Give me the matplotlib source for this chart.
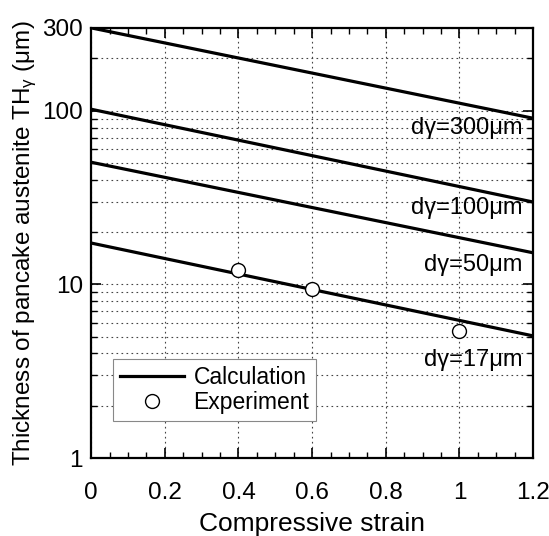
import matplotlib
matplotlib.use("Agg")
import matplotlib.pyplot as plt
from matplotlib.ticker import FixedLocator, LogLocator, NullFormatter, MultipleLocator

plt.rcParams['font.family'] = ['Liberation Sans', 'DejaVu Sans']
plt.rcParams['mathtext.fontset'] = 'custom'
plt.rcParams['mathtext.rm'] = 'Liberation Sans'
plt.rcParams['mathtext.it'] = 'Liberation Sans'

# calculated lines (straight on log scale), read at both ends
strain_ends = [0.0, 1.2]
calc_300 = [300, 90.5]
calc_100 = [102, 29.8]
calc_50 = [50.5, 15.2]
calc_17 = [17.3, 5.05]
calc_lines = [calc_300, calc_100, calc_50, calc_17]
line_labels = ["dγ=300μm", "dγ=100μm", "dγ=50μm", "dγ=17μm"]
label_y = [79.5, 27.5, 12.9, 3.67]

# experiment points
exp_strain = [0.4, 0.6, 1.0]
exp_th = [12.1, 9.4, 5.4]

fig, ax = plt.subplots(figsize=(5.49, 5.36), dpi=100)
fig.subplots_adjust(left=0.166, right=0.971, top=0.948, bottom=0.1455)

for i, vals in enumerate(calc_lines):
    ax.plot(strain_ends, vals, color="black", lw=2.3,
            label="Calculation" if i == 0 else None, zorder=3)
ax.plot(exp_strain, exp_th, "o", ms=10, mfc="white", mec="black", mew=1.0,
        ls="none", label="Experiment", zorder=4)

for txt, y in zip(line_labels, label_y):
    ax.text(1.172, y, txt, ha="right", va="center", fontsize=17, zorder=2)

ax.set_yscale("log")
ax.set_xlim(0, 1.2)
ax.set_ylim(1, 300)
ax.xaxis.set_major_locator(MultipleLocator(0.2))
ax.xaxis.set_minor_locator(MultipleLocator(0.05))
ax.set_xticks([0, 0.2, 0.4, 0.6, 0.8, 1.0, 1.2])
ax.set_xticklabels(["0", "0.2", "0.4", "0.6", "0.8", "1", "1.2"])
ax.yaxis.set_major_locator(FixedLocator([1, 10, 100, 300]))
ax.set_yticklabels(["1", "10", "100", "300"])
ax.yaxis.set_minor_locator(LogLocator(base=10, subs=range(2, 10)))
ax.yaxis.set_minor_formatter(NullFormatter())

ax.tick_params(which="both", direction="in", top=True, right=True, labelsize=17.5)
ax.tick_params(axis="x", pad=17)
ax.tick_params(axis="y", pad=6)
ax.tick_params(which="major", length=7, width=1.2)
ax.tick_params(which="minor", length=4, width=1.0)

ax.grid(True, which="major", axis="x", ls=(0, (1.5, 3)), color="#444444", lw=0.8)
ax.grid(True, which="both", axis="y", ls=(0, (1.5, 3)), color="#444444", lw=0.8)
for s in ax.spines.values():
    s.set_linewidth(1.6)

ax.set_xlabel("Compressive strain", fontsize=19, labelpad=6)
ax.set_ylabel(r"Thickness of pancake austenite TH$_{\gamma}$ (μm)", fontsize=17.5, labelpad=2)

leg = ax.legend(loc="lower left", bbox_to_anchor=(0.05, 0.086), fontsize=16.5,
                frameon=True, fancybox=False, edgecolor="#888888", framealpha=1,
                handlelength=2.8, borderpad=0.3, labelspacing=0.1, borderaxespad=0,
                handletextpad=0.4)
leg.get_frame().set_linewidth(0.8)

fig.savefig("out.png", dpi=100)
